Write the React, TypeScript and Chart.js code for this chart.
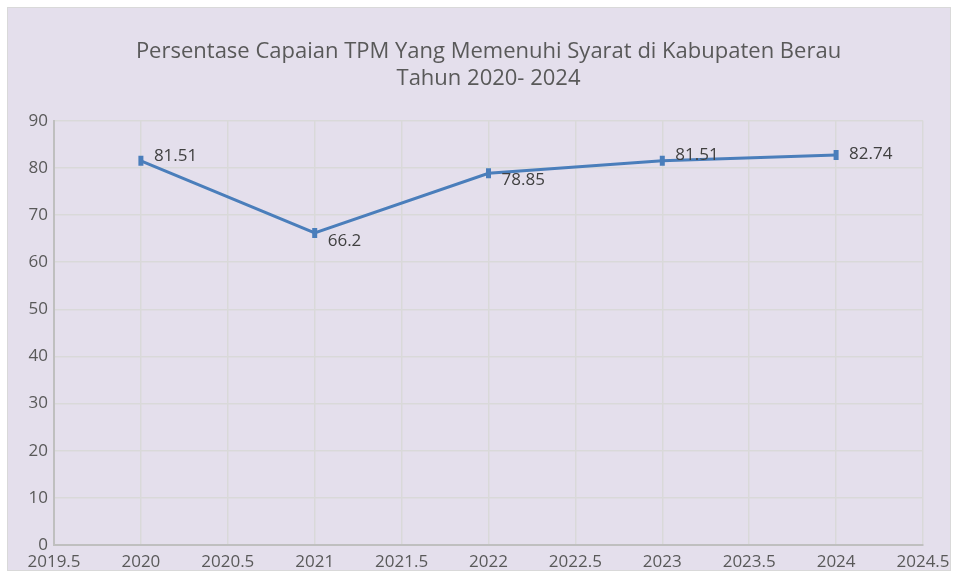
import React, { useEffect, useRef } from "react";
import { Chart, registerables } from "chart.js";

Chart.register(...registerables);

const titleLines = ["Persentase Capaian TPM Yang Memenuhi Syarat di Kabupaten Berau", "Tahun 2020- 2024"];
const years = [2020, 2021, 2022, 2023, 2024];
const values = [81.51, 66.2, 78.85, 81.51, 82.74];
const valueLabels = ["81.51", "66.2", "78.85", "81.51", "82.74"];
const labelDy = [-5, 8, 7, -6, -1];

const FONT = "'Open Sans', Lato, sans-serif";
const TEXT = "#595959";

const bgPlugin = {
  id: "bgPlugin",
  beforeDraw(chart: any) {
    const { ctx, width, height } = chart;
    ctx.save();
    ctx.fillStyle = "#ffffff";
    ctx.fillRect(0, 0, width, height);
    ctx.fillStyle = "#e4dfec";
    ctx.fillRect(7, 7, 944, 564);
    ctx.strokeStyle = "#d9d9d9";
    ctx.lineWidth = 1;
    ctx.strokeRect(7.5, 7.5, 943, 563);
    ctx.restore();
  },
};

const labelPlugin = {
  id: "labelPlugin",
  afterDatasetsDraw(chart: any) {
    const { ctx } = chart;
    const meta = chart.getDatasetMeta(0);
    ctx.save();
    ctx.font = `17px ${FONT}`;
    ctx.fillStyle = "#404040";
    ctx.textAlign = "left";
    ctx.textBaseline = "middle";
    meta.data.forEach((pt: any, i: number) => {
      ctx.fillText(valueLabels[i], pt.x + 13, pt.y + labelDy[i]);
    });
    ctx.restore();
  },
};

export default function App() {
  const ref = useRef<HTMLCanvasElement>(null);
  useEffect(() => {
    document.body.style.margin = "0";
    const chart = new Chart(ref.current!, {
      type: "line",
      data: {
        datasets: [
          {
            data: years.map((y, i) => ({ x: y, y: values[i] })),
            borderColor: "#4a7ebb",
            backgroundColor: "#4a7ebb",
            borderWidth: 3,
            pointStyle: "line",
            rotation: 90,
            pointRadius: 5,
            pointBorderWidth: 5,
            pointBorderColor: "#4a7ebb",
            tension: 0,
          },
        ],
      },
      options: {
        animation: false,
        responsive: false,
        layout: { padding: { left: 0, right: 34, top: 0, bottom: 0 } },
        plugins: {
          legend: { display: false },
          tooltip: { enabled: false },
          title: {
            display: true,
            fullSize: false,
            text: titleLines,
            color: TEXT,
            font: { family: FONT, size: 22, weight: "normal", lineHeight: 1.2 },
            padding: { top: 39, bottom: 29 },
          },
        },
        scales: {
          x: {
            type: "linear",
            min: 2019.5,
            max: 2024.5,
            ticks: {
              stepSize: 0.5,
              color: TEXT,
              font: { family: FONT, size: 17 },
              padding: 7,
              callback: (v: any) => String(v),
            },
            grid: { color: "#d9d9d9", drawTicks: false, lineWidth: 1.5 },
            border: { color: "#bfbfbf", width: 2 },
            afterFit: (s: any) => { s.height = 33; },
          },
          y: {
            min: 0,
            max: 90,
            ticks: {
              stepSize: 10,
              color: TEXT,
              font: { family: FONT, size: 17 },
              padding: 6,
            },
            grid: { color: "#d9d9d9", drawTicks: false, lineWidth: 1.5 },
            border: { color: "#bfbfbf", width: 2 },
            afterFit: (s: any) => { s.width = 54; },
          },
        },
      },
      plugins: [bgPlugin, labelPlugin],
    });
    return () => chart.destroy();
  }, []);
  return <canvas ref={ref} width={957} height={578} style={{ display: "block" }} />;
}
